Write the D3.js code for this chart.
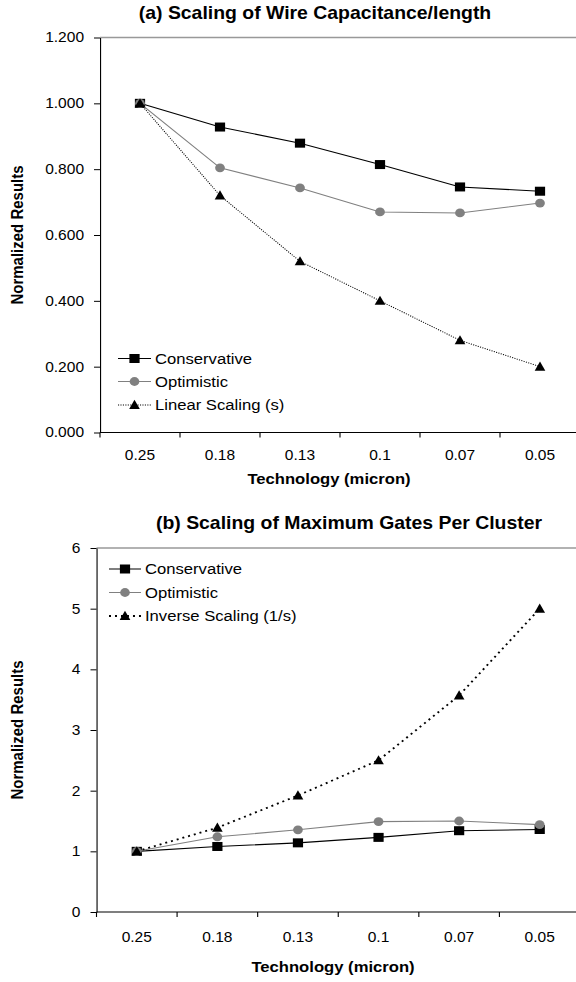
<!DOCTYPE html>
<html>
<head>
<meta charset="utf-8">
<script src="https://cdn.jsdelivr.net/npm/d3@7"></script>
<style>
  body { margin: 0; background: #fff; }
  svg { display: block; }
  text { font-family: "Liberation Sans", Arial, sans-serif; fill: #000; }
</style>
</head>
<body>
<svg id="chart"></svg>
<script>
// data
const categories = ["0.25", "0.18", "0.13", "0.1", "0.07", "0.05"];

const wireConservative = [1.000, 0.928, 0.879, 0.814, 0.746, 0.733];
const wireOptimistic   = [1.000, 0.804, 0.743, 0.670, 0.667, 0.697];
const wireLinear       = [1.000, 0.720, 0.520, 0.400, 0.280, 0.200];
const wireTicks  = [0, 0.2, 0.4, 0.6, 0.8, 1.0, 1.2];
const wireLegend = ["Conservative", "Optimistic", "Linear Scaling (s)"];

const gatesConservative = [1.00, 1.08, 1.14, 1.23, 1.34, 1.36];
const gatesOptimistic   = [1.00, 1.24, 1.355, 1.49, 1.50, 1.44];
const gatesInverse      = [1.00, 1.39, 1.92, 2.50, 3.57, 5.00];
const gatesTicks  = [0, 1, 2, 3, 4, 5, 6];
const gatesLegend = ["Conservative", "Optimistic", "Inverse Scaling (1/s)"];

// the original picture is stretched sideways, so draw in a narrower viewBox
const W = 576, H = 982, SX = 1.11;
const VW = W / SX;
const vx = px => px / SX;

const svg = d3.select("#chart")
  .attr("width", W)
  .attr("height", H)
  .attr("viewBox", `0 0 ${VW} ${H}`)
  .attr("preserveAspectRatio", "none");

function marker(g, type, cx, cy, color) {
  if (type === "square") {
    g.append("rect").attr("x", cx - 4.6).attr("y", cy - 4.5)
      .attr("width", 9.2).attr("height", 9).attr("fill", color);
  } else if (type === "circle") {
    g.append("circle").attr("cx", cx).attr("cy", cy).attr("r", 4.4).attr("fill", color);
  } else {
    g.append("path")
      .attr("d", `M${cx},${cy - 5.2}L${cx + 4.8},${cy + 4}L${cx - 4.8},${cy + 4}Z`)
      .attr("fill", color);
  }
}

function drawPanel(cfg) {
  const g = svg.append("g");
  const x = d3.scaleBand().domain(categories).range([vx(cfg.left), vx(cfg.right)]);
  const y = d3.scaleLinear().domain([0, cfg.yMax]).range([cfg.bottom, cfg.top]);
  const bw = x.bandwidth();
  const cx = c => x(c) + bw / 2;

  // plot border (top/right in grey)
  g.append("line")
    .attr("x1", x.range()[0]).attr("x2", x.range()[1])
    .attr("y1", y(cfg.yMax)).attr("y2", y(cfg.yMax))
    .attr("stroke", "#999").attr("stroke-width", 1.6);

  // y axis
  const ya = g.append("g")
    .attr("transform", `translate(${x.range()[0]},0)`)
    .call(d3.axisLeft(y).tickValues(cfg.ticks).tickFormat(cfg.fmt)
      .tickSizeInner(5.4).tickSizeOuter(0).tickPadding(9));
  ya.attr("font-family", null).attr("font-size", null);
  ya.selectAll("text").style("font-size", "14px");
  ya.selectAll("line, path").attr("stroke", "#000");

  // x axis with ticks between categories
  g.append("line")
    .attr("x1", x.range()[0]).attr("x2", x.range()[1])
    .attr("y1", y(0)).attr("y2", y(0)).attr("stroke", "#000");
  g.selectAll(".xt").data(categories.concat("end")).enter().append("line")
    .attr("x1", c => c === "end" ? x.range()[1] : x(c))
    .attr("x2", c => c === "end" ? x.range()[1] : x(c))
    .attr("y1", y(0)).attr("y2", y(0) + 5).attr("stroke", "#000");
  g.selectAll(".xl").data(categories).enter().append("text")
    .attr("x", cx).attr("y", cfg.tickLabelY)
    .attr("text-anchor", "middle").style("font-size", "14px")
    .text(c => c);

  // titles
  g.append("text").attr("x", vx(cfg.titleX)).attr("y", cfg.titleY)
    .attr("text-anchor", "middle").style("font-size", "17.5px").style("font-weight", "bold")
    .text(cfg.title);
  g.append("text").attr("x", vx(cfg.xTitleX)).attr("y", cfg.xTitleY)
    .attr("text-anchor", "middle").style("font-size", "15px").style("font-weight", "bold")
    .text("Technology (micron)");
  g.append("text")
    .attr("transform", `translate(${vx(23)},${cfg.yTitleY}) rotate(-90)`)
    .attr("text-anchor", "middle").style("font-size", "15px").style("font-weight", "bold")
    .text("Normalized Results");

  // series
  const line = d3.line().x((d, i) => cx(categories[i])).y(d => y(d));
  cfg.series.forEach(s => {
    g.append("path").datum(s.values).attr("d", line)
      .attr("fill", "none").attr("stroke", s.color)
      .attr("stroke-width", s.width).attr("stroke-dasharray", s.dash);
    s.values.forEach((v, i) => marker(g, s.marker, cx(categories[i]), y(v), s.markerColor));
  });

  // legend
  cfg.series.forEach((s, i) => {
    const ly = cfg.legend.rows[i];
    g.append("line")
      .attr("x1", vx(cfg.legend.x0)).attr("x2", vx(cfg.legend.x1))
      .attr("y1", ly).attr("y2", ly)
      .attr("stroke", s.color).attr("stroke-width", s.width).attr("stroke-dasharray", s.dash);
    marker(g, s.marker, vx((cfg.legend.x0 + cfg.legend.x1) / 2), ly, s.markerColor);
    g.append("text").attr("x", vx(cfg.legend.x1 + 4)).attr("y", ly).attr("dy", "0.36em")
      .style("font-size", "15px").text(cfg.legend.labels[i]);
  });
}

drawPanel({
  title: "(a) Scaling of Wire Capacitance/length", titleX: 315, titleY: 19,
  left: 100, right: 580, top: 37.5, bottom: 432.5, yMax: 1.2,
  ticks: wireTicks, fmt: d3.format(".3f"), tickLabelY: 460,
  xTitleX: 329, xTitleY: 484, yTitleY: 235,
  series: [
    { values: wireConservative, color: "#000", markerColor: "#000", marker: "square", width: 1.1, dash: null },
    { values: wireOptimistic, color: "#808080", markerColor: "#808080", marker: "circle", width: 1.1, dash: null },
    { values: wireLinear, color: "#000", markerColor: "#000", marker: "triangle", width: 1, dash: "1,1.2" }
  ],
  legend: { x0: 118, x1: 151, rows: [358.5, 381.5, 405], labels: wireLegend }
});

drawPanel({
  title: "(b) Scaling of Maximum Gates Per Cluster", titleX: 349, titleY: 529,
  left: 96.5, right: 580, top: 548, bottom: 912, yMax: 6,
  ticks: gatesTicks, fmt: d3.format("d"), tickLabelY: 942,
  xTitleX: 333, xTitleY: 972, yTitleY: 730,
  series: [
    { values: gatesConservative, color: "#000", markerColor: "#000", marker: "square", width: 1.1, dash: null },
    { values: gatesOptimistic, color: "#808080", markerColor: "#808080", marker: "circle", width: 1.1, dash: null },
    { values: gatesInverse, color: "#000", markerColor: "#000", marker: "triangle", width: 1.8, dash: "1.8,3.6" }
  ],
  legend: { x0: 109, x1: 141, rows: [569, 592.5, 616], labels: gatesLegend }
});
</script>
</body>
</html>
